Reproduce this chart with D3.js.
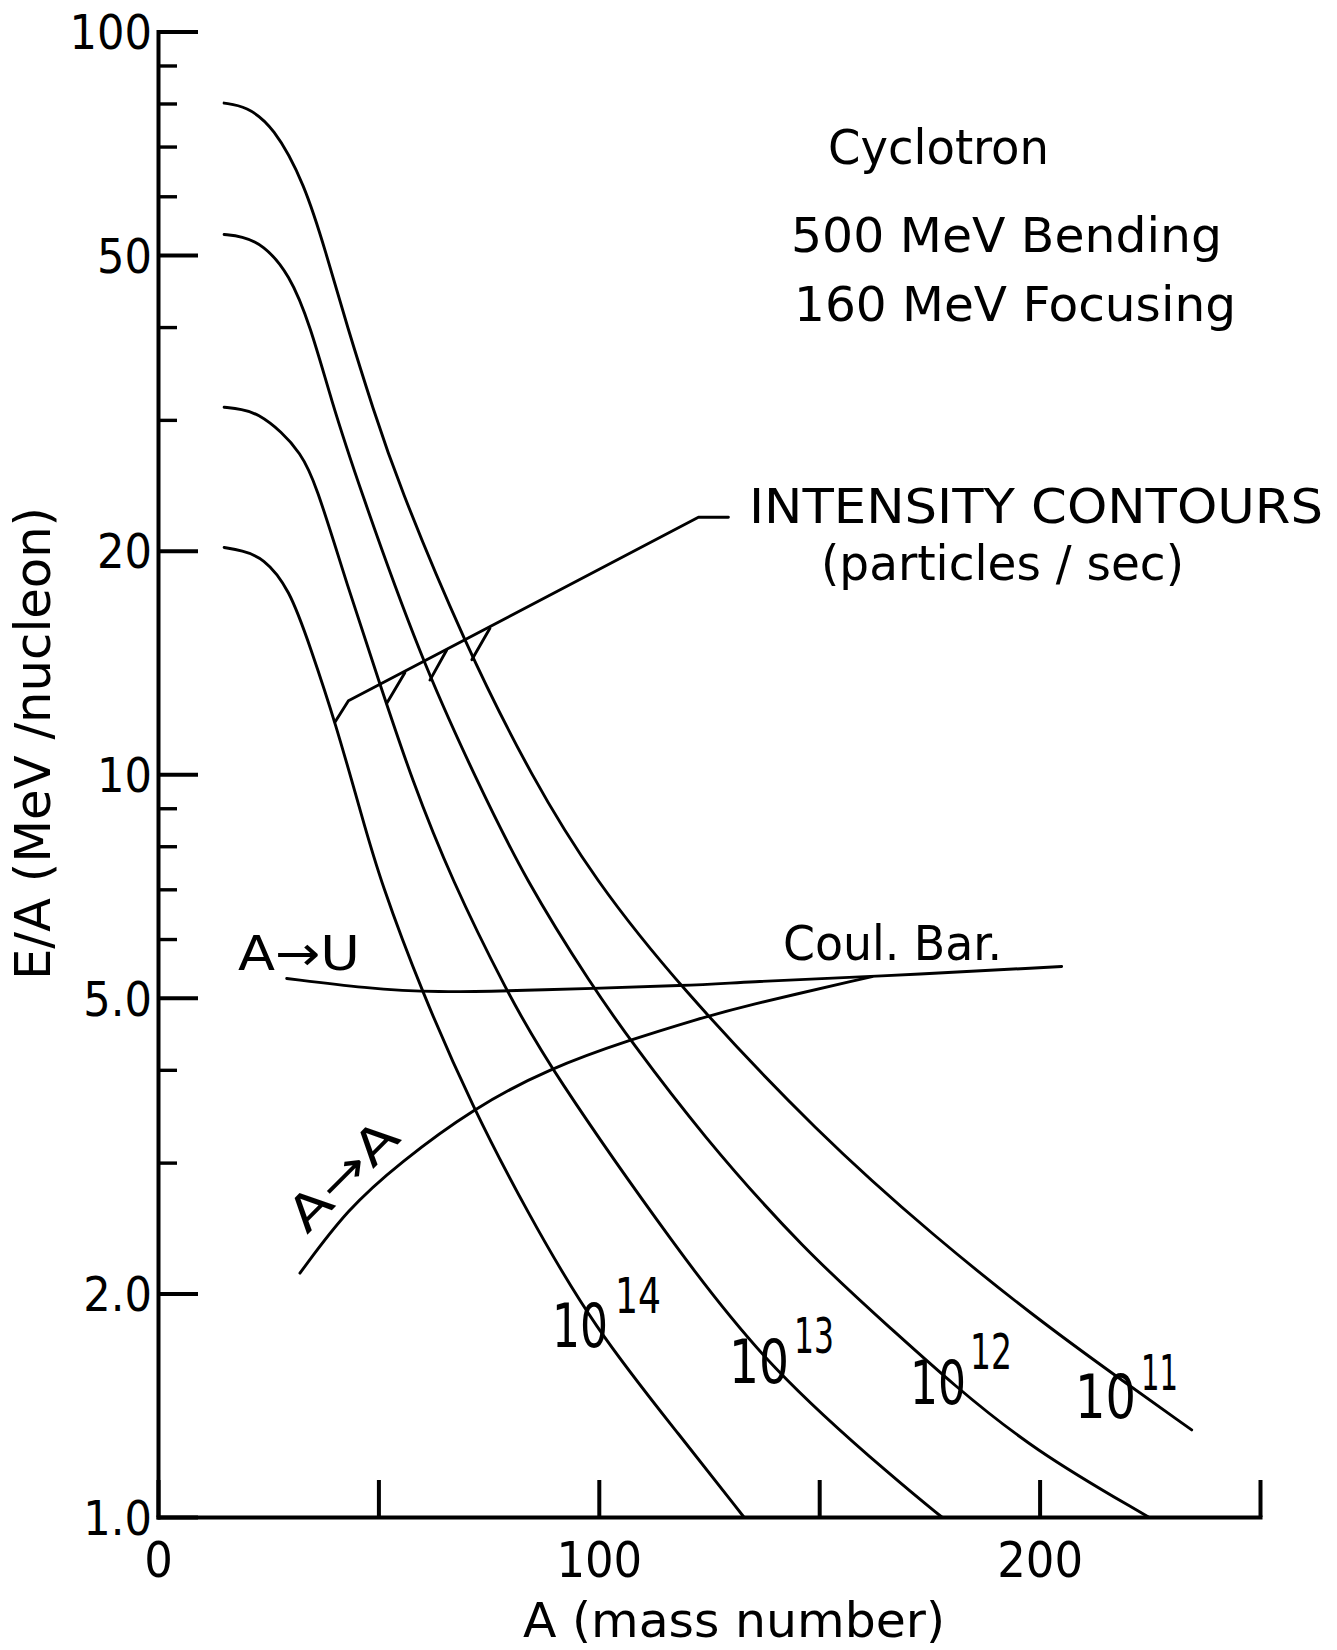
<!DOCTYPE html>
<html>
<head>
<meta charset="utf-8">
<script src="https://cdn.jsdelivr.net/npm/d3@7"></script>
<style>
  body { margin: 0; background: #fff; }
  svg { background: #fff; }
  svg text { font-family: "DejaVu Sans Condensed", "DejaVu Sans", sans-serif; font-stretch: condensed; fill: #000; }
  .curve { fill: none; stroke: #000; stroke-width: 2.9; stroke-linecap: round; stroke-linejoin: round; }
  .axis path, .axis line { stroke: #000; stroke-width: 4; }
  .minor line { stroke-width: 3.4; }
</style>
</head>
<body>
<script>
// E/A (MeV/nucleon) vs A (mass number)
var contourPowers = [14, 13, 12, 11];

var massA14 = [15, 19, 23.8, 29.8, 34.6, 40.2, 46.5, 50.4, 59.8, 71.5, 83.5, 98.8, 119.2, 132.9];
var energy14 = [20.2, 20.0, 19.6, 17.8, 14.8, 11.77, 8.67, 7.2, 5.10, 3.55, 2.59, 1.80, 1.27, 1.0];

var massA13 = [15, 19, 22.6, 28.1, 32.2, 35.6, 43, 50.4, 57.6, 66.6, 79.1, 88.9, 117.7, 138.8, 168.3, 177.8];
var energy13 = [31.2, 31.0, 30.6, 28.9, 27.1, 24.9, 17.9, 13.2, 9.82, 7.21, 5.10, 4.02, 2.29, 1.58, 1.11, 1.0];

var massA12 = [15, 19, 23.8, 29.8, 34.6, 39.3, 45.1, 59.8, 72.3, 83.3, 98.8, 107.1, 123, 146.4, 168.3, 179.7, 198.6, 224.7];
var energy12 = [53.3, 53.0, 51.7, 47.2, 40.1, 31.9, 24.9, 14.2, 9.82, 7.21, 5.15, 4.39, 3.29, 2.29, 1.75, 1.52, 1.23, 1.0];

var massA11 = [15, 20, 26.2, 33.3, 38.1, 42.9, 48.9, 54.2, 69.3, 85.1, 99.1, 118, 150, 176.7, 198.6, 216.7, 234.5];
var energy11 = [80.1, 79.3, 74.6, 62.3, 50.4, 40.1, 30.9, 24.9, 15.1, 9.82, 7.21, 5.20, 3.27, 2.37, 1.865, 1.557, 1.31];

// Coulomb barrier, A -> U and A -> A
var coulombA = [29.2, 47.3, 62.5, 85.1, 123, 132, 162, 205];
var coulombE = [5.31, 5.15, 5.08, 5.12, 5.20, 5.25, 5.34, 5.51];
var symmA = [32.2, 43, 54.9, 71.5, 88.9, 107.1, 123, 132, 162];
var symmE = [2.13, 2.60, 3.0, 3.55, 4.02, 4.39, 4.69, 4.86, 5.34];

// leader for "INTENSITY CONTOURS"
var pointerA = [40.2, 43.2, 122.6, 129.4];
var pointerE = [11.77, 12.56, 22.18, 22.18];
var pointerTickA0 = [51.9, 61.7, 71.2];
var pointerTickE0 = [12.46, 13.39, 14.26];
var pointerTickA1 = [56.0, 65.5, 75.3];
var pointerTickE1 = [13.70, 14.70, 15.72];

var yMajorTicks = [1, 2, 5, 10, 20, 50, 100];
var yMajorLabels = ["1.0", "2.0", "5.0", "10", "20", "50", "100"];
var yMinorTicks = [3, 4, 6, 7, 8, 9, 30, 40, 60, 70, 80, 90];
var xTicks = [0, 50, 100, 150, 200, 250];
var xTickLabels = ["0", "", "100", "", "200", ""];

var width = 1337, height = 1650;

var svg = d3.select("body").append("svg")
    .attr("width", width)
    .attr("height", height);

var x = d3.scaleLinear().domain([0, 250]).range([158, 1260]);
var y = d3.scaleLog().domain([1, 100]).range([1517, 31.5]);

//squeeze a text to a given width
function fit(sel, w) {
  sel.attr("textLength", w).attr("lengthAdjust", "spacingAndGlyphs");
}

//Axes
var yAxis = d3.axisLeft(y)
    .tickValues(yMajorTicks)
    .tickFormat(function(d) { return yMajorLabels[yMajorTicks.indexOf(d)]; })
    .tickSize(-40)
    .tickSizeOuter(0)
    .tickPadding(6);

svg.append("g")
    .attr("class", "axis")
    .attr("transform", "translate(" + x(0) + ",0)")
    .call(yAxis)
    .call(function(g) {
      g.selectAll("text")
        .attr("font-size", 48)
        .attr("dy", "0.36em")
        .style("font-family", null);
    });

svg.append("g")
    .attr("class", "axis minor")
    .attr("transform", "translate(" + x(0) + ",0)")
    .call(d3.axisLeft(y).tickValues(yMinorTicks).tickFormat("").tickSize(-19).tickSizeOuter(0))
    .call(function(g) { g.select(".domain").remove(); });

var xAxis = d3.axisBottom(x)
    .tickValues(xTicks)
    .tickFormat(function(d) { return xTickLabels[xTicks.indexOf(d)]; })
    .tickSize(-37)
    .tickSizeOuter(0)
    .tickPadding(24);

svg.append("g")
    .attr("class", "axis")
    .attr("transform", "translate(0," + y(1) + ")")
    .call(xAxis)
    .call(function(g) {
      g.selectAll("text").attr("font-size", 50);
    });

svg.selectAll(".axis .domain").attr("stroke-linecap", "square");

//Contour curves (B-spline to smooth the hand-read points)
var line = d3.line()
    .x(function(d) { return x(d[0]); })
    .y(function(d) { return y(d[1]); })
    .curve(d3.curveBasis);

var contours = [
  d3.zip(massA14, energy14),
  d3.zip(massA13, energy13),
  d3.zip(massA12, energy12),
  d3.zip(massA11, energy11)
];

svg.append("g").selectAll("path")
    .data(contours)
    .enter()
    .append("path")
    .attr("class", "curve")
    .attr("d", line);

svg.append("path")
    .attr("class", "curve")
    .attr("d", line(d3.zip(coulombA, coulombE)));

svg.append("path")
    .attr("class", "curve")
    .attr("d", line(d3.zip(symmA, symmE)));

//Leader to the contour label
var straight = d3.line()
    .x(function(d) { return x(d[0]); })
    .y(function(d) { return y(d[1]); });

svg.append("path")
    .attr("class", "curve")
    .attr("stroke-width", 2.4)
    .attr("d", straight(d3.zip(pointerA, pointerE)));

pointerTickA0.forEach(function(a, i) {
  svg.append("path")
    .attr("class", "curve")
    .attr("stroke-width", 2.4)
    .attr("d", straight([[a, pointerTickE0[i]], [pointerTickA1[i], pointerTickE1[i]]]));
});

//Contour labels 10^n
var labelPos = [
  {base: [552, 1347], bw: 56, exp: [615, 1313], ew: 46},
  {base: [729, 1383], bw: 60, exp: [794, 1353], ew: 40},
  {base: [910, 1404], bw: 56, exp: [970, 1369], ew: 42},
  {base: [1075, 1418], bw: 61, exp: [1141, 1390], ew: 37}
];

contourPowers.forEach(function(p, i) {
  var L = labelPos[i];
  svg.append("text")
    .attr("x", L.base[0]).attr("y", L.base[1])
    .attr("font-size", 60)
    .text("10")
    .call(fit, L.bw);
  svg.append("text")
    .attr("x", L.exp[0]).attr("y", L.exp[1])
    .attr("font-size", 49)
    .text(String(p))
    .call(fit, L.ew);
});

//Annotation text
var notes = [
  {t: "Cyclotron", x: 828, y: 164, w: 221},
  {t: "500 MeV  Bending", x: 791, y: 252, w: 431},
  {t: "160 MeV  Focusing", x: 794, y: 321, w: 442},
  {t: "INTENSITY  CONTOURS", x: 749, y: 523, w: 574},
  {t: "(particles / sec)", x: 821, y: 580, w: 363},
  {t: "Coul. Bar.", x: 783, y: 960, w: 219},
  {t: "A\u2192U", x: 238, y: 970, w: 122}
];

notes.forEach(function(n) {
  svg.append("text")
    .attr("x", n.x)
    .attr("y", n.y)
    .attr("font-size", 48)
    .text(n.t)
    .call(fit, n.w);
});

svg.append("text")
    .attr("transform", "translate(307,1235) rotate(-45)")
    .attr("font-size", 48)
    .text("A\u2192A")
    .call(fit, 135);

//Axis titles
svg.append("text")
    .attr("x", 523)
    .attr("y", 1637)
    .attr("font-size", 48)
    .text("A (mass  number)")
    .call(fit, 422);

svg.append("text")
    .attr("transform", "translate(50,980) rotate(-90)")
    .attr("font-size", 50)
    .text("E/A  (MeV /nucleon)")
    .call(fit, 473);
</script>
</body>
</html>
